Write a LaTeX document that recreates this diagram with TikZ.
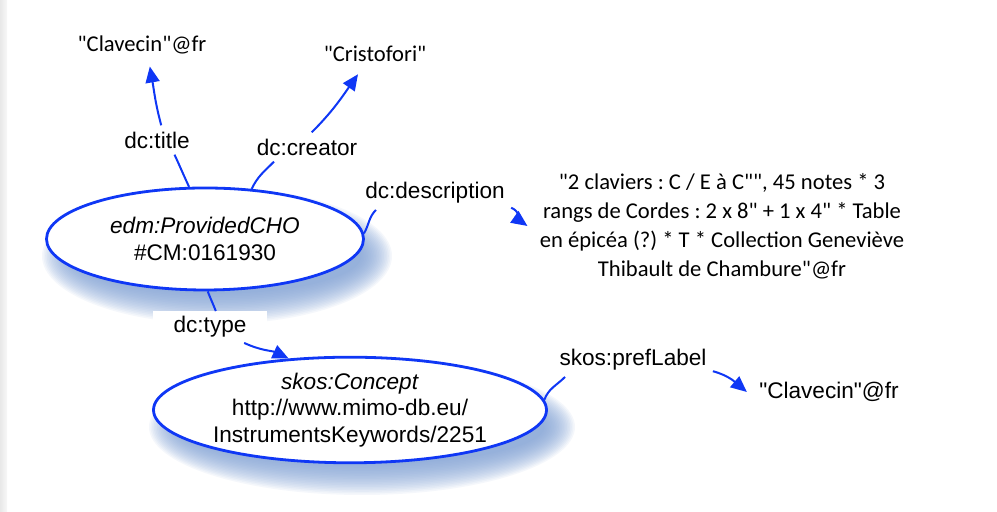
\documentclass[tikz,border=0pt]{standalone}
\usepackage{fontspec}
\setmainfont{Liberation Sans}[Ligatures=TeXOff]
\newfontfamily\litfont{Carlito}
\usetikzlibrary{shapes.geometric,arrows.meta}
\pgfdeclarelayer{bg}
\pgfsetlayers{bg,main}
\definecolor{edgeblue}{RGB}{15,55,245}
\definecolor{shadowblue}{RGB}{125,158,210}
\tikzset{
  res/.style={ellipse, draw=edgeblue, line width=1.4pt, fill=white, inner sep=0pt,
    align=center, font=\fontsize{11.3}{13.4}\selectfont},
  prop/.style={inner sep=3pt, font=\fontsize{11.3}{13.4}\selectfont},
  lit/.style={inner sep=6pt, align=center, font=\litfont\fontsize{11.3}{14.5}\selectfont},
  rel/.style={draw=edgeblue, line width=1pt, -{Triangle[length=8pt,width=7pt]}},
}
\frenchspacing
\begin{document}
\begin{tikzpicture}[x=0.5pt, y=0.5pt]
  % page, with the grey strip at the left
  \useasboundingbox (0,0) rectangle (997,512);
  \shade[left color=black!9, right color=black!3] (0,0) rectangle (7,512);

  % resources
  \node[res, minimum width=158.5pt, minimum height=51pt] (cho) at (205,273)
    {\textit{edm:ProvidedCHO}\\\#CM:0161930};
  \node[res, minimum width=196.5pt, minimum height=51.5pt] (concept) at (350,102)
    {\textit{skos:Concept}\\http://www.mimo-db.eu/\\InstrumentsKeywords/2251};

  % literals
  \node[lit] (title) at (142,467) {"Clavecin"@fr};
  \node[lit] (creator) at (375,458) {"Cristofori"};
  \node[lit] (descr) at (722,286) {"2 claviers : C / E à C"", 45 notes * 3\\
    rangs de Cordes : 2 x 8" + 1 x 4" * Table\\
    en épicéa (?) * T * Collection Geneviève\\
    Thibault de Chambure"@fr};
  \node[lit, font=\fontsize{11.3}{13.4}\selectfont] (pref) at (829,120) {"Clavecin"@fr};

  % properties
  \node[prop] (ptitle) at (157,372) {dc:title};
  \node[prop] (pcreator) at (307,365) {dc:creator};
  \node[prop] (pdescr) at (435,319) {dc:description};
  \node[prop, fill=white, inner xsep=10.5pt, inner ysep=2.5pt] (ptype) at (210,185) {dc:type};
  \node[prop] (ppref) at (633,152) {skos:prefLabel};

  % soft shadows under the resources
  \begin{pgfonlayer}{bg}
    \foreach \n/\rx/\ry in {cho/158/51, concept/196/51}
      \foreach \k in {0,...,19}
        \fill[shadowblue, opacity=0.08] ([shift={(12,-17)}]\n.center)
          ellipse [x radius=\rx+17-1.6*\k, y radius=\ry+17-1.6*\k];
  \end{pgfonlayer}

  % statements
  \draw[rel] (cho.107) to[out=115,in=-65] (ptitle.-40)
             (ptitle.74) to[out=105,in=-80] (title.-70);
  \draw[rel] (cho.47) to[out=65,in=-135] (pcreator.-156)
             (pcreator.72) to[out=45,in=-125] (creator.-130);
  \draw[rel] (cho.2) to[out=60,in=-135] (pdescr.-164)
             (pdescr.-11) to[out=-20,in=145] (descr.west);
  \draw[rel] (cho.-87) to[out=-69,in=111] (ptype.70)
             (ptype.-25) to[out=-25,in=155] (concept.140);
  \draw[rel] (concept.3) to[out=70,in=-135] (ppref.-166)
             (ppref.-8) to[out=-15,in=140] (pref.west);
\end{tikzpicture}
\end{document}
